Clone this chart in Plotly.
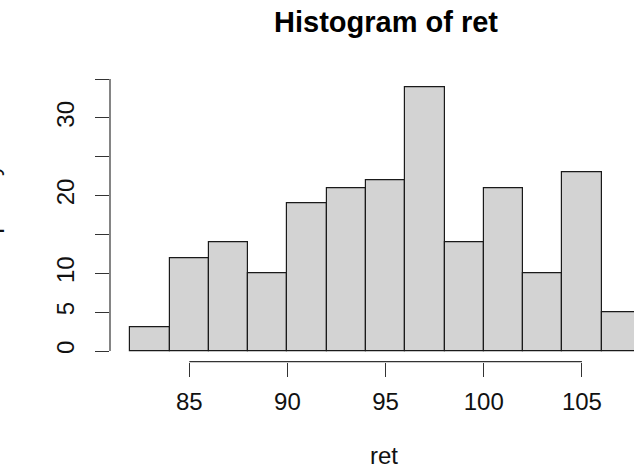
import plotly.graph_objects as go

# Histogram of returns: bin breaks and frequencies
breaks = [82, 84, 86, 88, 90, 92, 94, 96, 98, 100, 102, 104, 106, 108]
counts = [3, 12, 14, 10, 19, 21, 22, 34, 14, 21, 10, 23, 5]

x_ticks = [85, 90, 95, 100, 105]
y_ticks = [0, 5, 10, 15, 20, 25, 30, 35]
y_tick_text = ["0", "5", "10", "", "20", "", "30", ""]

title_text = "Histogram of ret"
x_label = "ret"
y_label = "Frequency"

W, H = 634, 468
FONT = "Liberation Sans, Arial, sans-serif"

centers = [(a + b) / 2 for a, b in zip(breaks[:-1], breaks[1:])]
widths = [b - a for a, b in zip(breaks[:-1], breaks[1:])]

# R-style axis limits: data range extended by 4% on each side
span_x = breaks[-1] - breaks[0]
x_lo = breaks[0] - 0.04 * span_x
ymax = max(counts)
y_lo, y_hi = -0.04 * ymax, ymax * 1.04

# plot region in pixels
left_px, right_px = 110, 634
bottom_px = 361.6
px_per_x = 19.63
x_hi = x_lo + (right_px - left_px) / px_per_x
px_per_y = 7.771
top_px = bottom_px - (y_hi - y_lo) * px_per_y

fig = go.Figure()
fig.add_trace(go.Bar(
    x=centers, y=counts, width=widths,
    marker=dict(color="#D3D3D3", line=dict(color="#1a1a1a", width=1.2)),
    hoverinfo="x+y",
))

fig.update_layout(
    width=W, height=H,
    margin=dict(l=0, r=0, t=0, b=0),
    paper_bgcolor="white", plot_bgcolor="white",
    showlegend=False,
    bargap=0,
    font=dict(family=FONT, size=24, color="black"),
    xaxis=dict(
        domain=[left_px / W, right_px / W],
        range=[x_lo, x_hi],
        tickvals=x_ticks, ticktext=[str(v) for v in x_ticks],
        ticks="outside", ticklen=14, tickwidth=1.2, tickcolor="#333",
        ticklabelstandoff=5,
        showgrid=False, zeroline=False, showline=False,
        tickfont=dict(size=24, color="#111"),
    ),
    yaxis=dict(
        domain=[1 - bottom_px / H, 1 - top_px / H],
        range=[y_lo, y_hi],
        tickvals=y_ticks, ticktext=y_tick_text,
        ticks="outside", ticklen=14, tickwidth=1.2, tickcolor="#333",
        tickangle=-90, ticklabelstandoff=11,
        showgrid=False, zeroline=False, showline=False,
        tickfont=dict(size=24, color="#111"),
    ),
)

# axis lines span only the first to last tick
fig.add_shape(type="line", xref="x", yref="y domain",
              x0=x_ticks[0], x1=x_ticks[-1], y0=0, y1=0,
              line=dict(color="#333", width=1.2))
fig.add_shape(type="line", xref="x domain", yref="y",
              x0=0, x1=0, y0=y_ticks[0], y1=y_ticks[-1],
              line=dict(color="#333", width=1.2))

fig.add_annotation(text=f"<b>{title_text}</b>", xref="paper", yref="paper",
                   x=385.5 / W, y=1 - 22 / H, xanchor="center", yanchor="middle",
                   showarrow=False, font=dict(size=29, family=FONT, color="black"))
fig.add_annotation(text=x_label, xref="paper", yref="paper",
                   x=384 / W, y=1 - 455 / H, xanchor="center", yanchor="middle",
                   showarrow=False, font=dict(size=24, family=FONT, color="#111"))
# y-axis title sits at the left edge of the figure, mostly outside it
fig.add_annotation(text=y_label, xref="paper", yref="paper",
                   x=5 / W, y=1 - 221 / H, xanchor="right", yanchor="middle",
                   textangle=-90, showarrow=False,
                   font=dict(size=24, family=FONT, color="#111"))

fig.write_html("out.html")
